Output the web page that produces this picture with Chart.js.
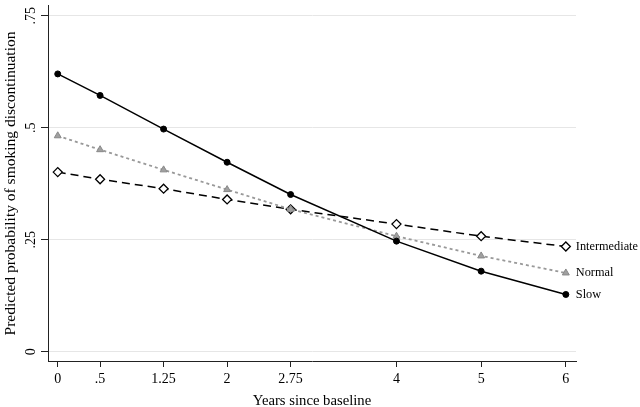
<!DOCTYPE html>
<html lang="en">
<head>
    <meta charset="UTF-8">
    <title>Predicted probability of smoking discontinuation</title>
    <script src="https://cdn.jsdelivr.net/npm/chart.js"></script>
    <style>
        body { margin: 0; background: #fff; }
        #wrap { width: 640px; height: 407px; }
    </style>
</head>
<body>
    <div id="wrap"><canvas id="chart"></canvas></div>

    <script>
        const years = [0, 0.5, 1.25, 2, 2.75, 4, 5, 6];
        const xTickLabels = ['0', '.5', '1.25', '2', '2.75', '4', '5', '6'];
        const yTicks = [0, 0.25, 0.5, 0.75];
        const yTickLabels = ['0', '.25', '.5', '.75'];

        const seriesNames = ['Slow', 'Normal', 'Intermediate'];
        const slow = [0.620, 0.572, 0.497, 0.423, 0.351, 0.247, 0.180, 0.128];
        const normal = [0.482, 0.451, 0.406, 0.362, 0.318, 0.258, 0.214, 0.176];
        const intermediate = [0.401, 0.385, 0.364, 0.340, 0.318, 0.285, 0.258, 0.235];

        const serif = '"Liberation Serif", "Times New Roman", serif';

        function pts(vals) {
            return vals.map((v, i) => ({ x: years[i], y: v }));
        }

        // draws the rotated y labels, axis titles and the series names at the line ends
        const textPlugin = {
            id: 'textPlugin',
            afterDraw(chart) {
                const ctx = chart.ctx;
                const ys = chart.scales.y;
                const area = chart.chartArea;
                ctx.save();
                ctx.fillStyle = '#000';
                ctx.font = '14px ' + serif;
                ctx.textAlign = 'center';
                ctx.textBaseline = 'alphabetic';

                yTicks.forEach((v, i) => {
                    const py = ys.getPixelForValue(v);
                    ctx.save();
                    ctx.translate(34.5, py);
                    ctx.rotate(-Math.PI / 2);
                    ctx.fillText(yTickLabels[i], 0, 0);
                    ctx.restore();
                });

                ctx.font = '15.5px ' + serif;
                ctx.save();
                ctx.translate(14.5, 183.5);
                ctx.rotate(-Math.PI / 2);
                ctx.fillText('Predicted probability of smoking discontinuation', 0, 0);
                ctx.restore();

                ctx.font = '14.7px ' + serif;
                ctx.fillText('Years since baseline', (area.left + area.right) / 2, 405);

                ctx.font = '12.3px ' + serif;
                ctx.textAlign = 'left';
                ctx.textBaseline = 'middle';
                chart.data.datasets.forEach((ds, i) => {
                    const meta = chart.getDatasetMeta(i);
                    const last = meta.data[meta.data.length - 1];
                    ctx.fillText(ds.label, last.x + 10, last.y);
                });
                ctx.restore();
            }
        };

        new Chart(document.getElementById('chart'), {
            type: 'line',
            data: {
                datasets: [
                    {
                        label: seriesNames[0],
                        data: pts(slow),
                        borderColor: '#000',
                        borderWidth: 1.5,
                        pointStyle: 'circle',
                        pointRadius: 3,
                        pointBackgroundColor: '#000',
                        pointBorderColor: '#000',
                        pointBorderWidth: 1
                    },
                    {
                        label: seriesNames[1],
                        data: pts(normal),
                        borderColor: '#999',
                        borderWidth: 1.8,
                        borderDash: [3, 3],
                        pointStyle: 'triangle',
                        pointRadius: 4,
                        pointBackgroundColor: '#a0a0a0',
                        pointBorderColor: '#888',
                        pointBorderWidth: 1
                    },
                    {
                        label: seriesNames[2],
                        data: pts(intermediate),
                        borderColor: '#000',
                        borderWidth: 1.5,
                        borderDash: [8, 5],
                        pointStyle: 'rectRot',
                        pointRadius: 4.5,
                        pointBackgroundColor: '#fff',
                        pointBorderColor: '#000',
                        pointBorderWidth: 1.3
                    }
                ]
            },
            options: {
                responsive: true,
                maintainAspectRatio: false,
                animation: false,
                devicePixelRatio: 1,
                layout: { padding: { left: 0, right: 64, top: 0, bottom: 0 } },
                plugins: {
                    legend: { display: false },
                    tooltip: { enabled: false }
                },
                scales: {
                    x: {
                        type: 'linear',
                        min: -0.115,
                        max: 6.12,
                        afterBuildTicks: s => { s.ticks = years.map(v => ({ value: v })); },
                        afterFit: s => { s.height = 46; },
                        grid: {
                            drawOnChartArea: false,
                            drawTicks: true,
                            tickLength: 6,
                            tickColor: '#222'
                        },
                        border: { display: true, color: '#222', width: 1 },
                        ticks: {
                            autoSkip: false,
                            maxRotation: 0,
                            padding: 4,
                            color: '#000',
                            font: { family: serif, size: 14 },
                            callback: (v, i) => xTickLabels[i]
                        }
                    },
                    y: {
                        type: 'linear',
                        min: -0.0204,
                        max: 0.772,
                        afterBuildTicks: s => { s.ticks = yTicks.map(v => ({ value: v })); },
                        afterFit: s => { s.width = 48; },
                        grid: {
                            drawOnChartArea: true,
                            drawTicks: true,
                            tickLength: 7,
                            color: '#e6e6e6',
                            tickColor: '#222',
                            lineWidth: 1
                        },
                        border: { display: true, color: '#222', width: 1 },
                        ticks: { display: false }
                    }
                }
            },
            plugins: [textPlugin]
        });
    </script>
</body>
</html>
